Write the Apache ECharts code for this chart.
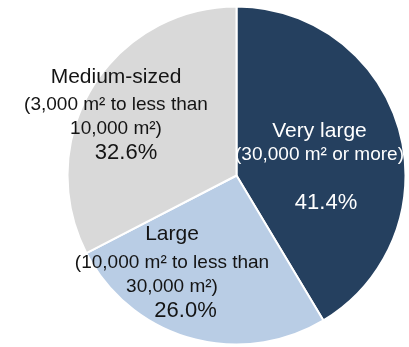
<!DOCTYPE html>
<html>
<head>
<meta charset="utf-8">
<script src="https://cdn.jsdelivr.net/npm/echarts@6/dist/echarts.min.js"></script>
<style>
html,body{margin:0;padding:0;background:#fff;}
#chart{width:409px;height:347px;}
</style>
</head>
<body>
<div id="chart"></div>
<script>
// Share of stores by floor-space class
const categories = ['Very large', 'Large', 'Medium-sized'];
const subLabels = [['(30,000 m\u00b2 or more)'], ['(10,000 m\u00b2 to less than', '30,000 m\u00b2)'], ['(3,000 m\u00b2 to less than', '10,000 m\u00b2)']];
const shares = [41.4, 26.0, 32.6];
const colors = ['#25405F', '#B9CDE5', '#D9D9D9'];
const textColors = ['#ffffff', '#141414', '#141414'];
// text block placement per slice: centre x, top y, percent nudge
const labelPos = [[319.5, 119], [172, 218.5], [116, 61]];
const pctNudge = [13, 27, 20];

const chart = echarts.init(document.getElementById('chart'));
const font = '"Liberation Sans", Arial, sans-serif';

function labelFor(i) {
  const c = textColors[i];
  const lines = ['{t|' + categories[i] + '}'];
  subLabels[i].forEach(s => lines.push('{s|' + s + '}'));
  if (i === 0) lines.push('{g|}');
  lines.push('{p|' + shares[i].toFixed(1) + '%}');
  return {
    show: true,
    position: 'inside',
    formatter: lines.join('\n'),
    color: c,
    rich: {
      t: { fontFamily: font, fontSize: 21, lineHeight: i === 0 ? 24 : 32, color: c },
      s: { fontFamily: font, fontSize: 19, lineHeight: 24, color: c },
      g: { fontSize: 10, lineHeight: 24 },
      p: { fontFamily: font, fontSize: 22, lineHeight: 24, color: c, padding: [0, 0, 0, pctNudge[i]] }
    }
  };
}

chart.setOption({
  animation: false,
  series: [{
    type: 'pie',
    center: [236.5, 175.5],
    radius: [0, 169],
    startAngle: 90,
    clockwise: true,
    itemStyle: { borderColor: '#ffffff', borderWidth: 2 },
    labelLine: { show: false },
    data: categories.map((name, i) => ({
      name: name,
      value: shares[i],
      itemStyle: { color: colors[i] },
      label: labelFor(i)
    })),
    labelLayout: function (params) {
      const p = labelPos[params.dataIndex];
      return { x: p[0], y: p[1], align: 'center', verticalAlign: 'top' };
    }
  }]
});
</script>
</body>
</html>
